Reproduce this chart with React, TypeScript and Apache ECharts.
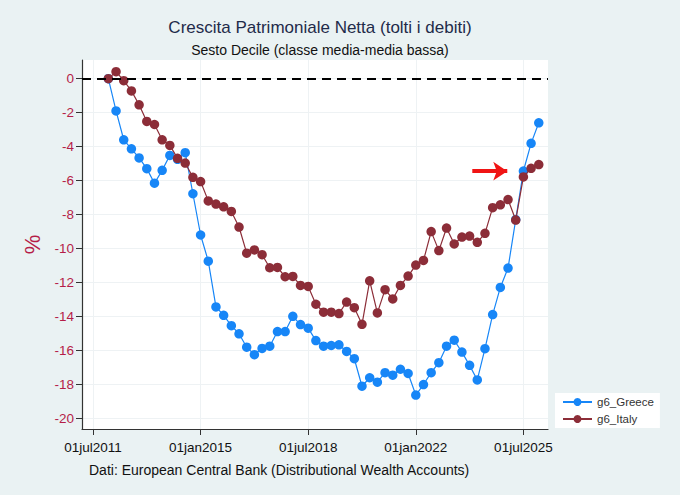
import React, { useEffect, useRef } from "react";
import * as echarts from "echarts";

// quarter index counted from 01jul2011 (= 0); first observation is 01jan2012
const FIRST_QUARTER = 2;

const greece = [
  0, -1.9, -3.6, -4.13, -4.67, -5.3, -6.16, -5.4, -4.52, -4.75, -4.36, -6.78,
  -9.21, -10.75, -13.45, -13.94, -14.55, -15.03, -15.82, -16.26, -15.89, -15.76,
  -14.9, -14.9, -14.0, -14.49, -14.7, -15.43, -15.76, -15.72, -15.68, -16.07,
  -16.5, -18.12, -17.62, -17.88, -17.32, -17.47, -17.12, -17.37, -18.64, -18.02,
  -17.32, -16.73, -15.76, -15.41, -16.11, -16.89, -17.75, -15.91, -13.9, -12.3,
  -11.16, -8.3, -5.44, -3.81, -2.6,
];

const italy = [
  0, 0.41, -0.12, -0.72, -1.54, -2.52, -2.7, -3.6, -3.93, -4.69, -4.97, -5.81,
  -6.06, -7.2, -7.39, -7.55, -7.82, -8.74, -10.28, -10.09, -10.37, -11.14,
  -11.12, -11.67, -11.65, -12.18, -12.24, -13.29, -13.76, -13.76, -13.84, -13.16,
  -13.49, -14.47, -11.91, -13.8, -12.43, -12.98, -12.18, -11.63, -10.98, -10.71,
  -9.01, -10.13, -8.8, -9.74, -9.33, -9.27, -9.64, -9.11, -7.6, -7.43,
  -7.12, -8.33, -5.79, -5.28, -5.06,
];

const xTickValues = [0, 14, 28, 42, 56];
const xTickLabels = ["01jul2011", "01jan2015", "01jul2018", "01jan2022", "01jul2025"];
const yTickValues = [-20, -18, -16, -14, -12, -10, -8, -6, -4, -2, 0];

const arrowFrom = [49.35, -5.45];
const arrowTo = [53.9, -5.45];

const seriesNames = ["g6_Greece", "g6_Italy"];

const BLUE = "#1786f7";
const RED = "#8c2d38";
const LABEL_RED = "#b51d48";

export default function App() {
  const ref = useRef<HTMLDivElement>(null);

  useEffect(() => {
    if (!ref.current) return;
    const chart = echarts.init(ref.current, undefined, { renderer: "svg" });
    const toPoints = (vals: number[]) => vals.map((v, i) => [FIRST_QUARTER + i, v]);

    chart.setOption({
      animation: false,
      backgroundColor: "#eaf2f3",
      title: [
        {
          text: "Crescita Patrimoniale Netta (tolti i debiti)",
          left: 315,
          top: 14,
          textAlign: "center",
          textStyle: { fontFamily: "Liberation Sans, Arial", fontSize: 17, fontWeight: "normal", color: "#1f2b4a" },
        },
        {
          text: "Sesto Decile (classe media-media bassa)",
          left: 315,
          top: 38,
          textAlign: "center",
          textStyle: { fontFamily: "Liberation Sans, Arial", fontSize: 14, fontWeight: "normal", color: "#111" },
        },
        {
          text: "Dati: European Central Bank (Distributional Wealth Accounts)",
          left: 84,
          top: 458,
          textStyle: { fontFamily: "Liberation Sans, Arial", fontSize: 14, fontWeight: "normal", color: "#111" },
        },
      ],
      grid: {
        left: 82,
        right: 132,
        top: 60,
        bottom: 66,
        show: true,
        backgroundColor: "#ffffff",
        borderWidth: 0,
      },
      legend: {
        data: seriesNames,
        orient: "vertical",
        left: 555,
        top: 393,
        backgroundColor: "#ffffff",
        padding: [3, 6, 3, 7],
        itemWidth: 29,
        itemHeight: 10,
        itemGap: 5,
        textStyle: { fontFamily: "Liberation Sans, Arial", fontSize: 11.5, color: "#333" },
      },
      xAxis: {
        type: "value",
        min: -1.43,
        max: 59.2,
        axisLine: { show: true, onZero: false, lineStyle: { color: "#333", width: 1.2 } },
        axisTick: { show: true, length: 6, customValues: xTickValues, lineStyle: { color: "#333" } },
        axisLabel: {
          customValues: xTickValues,
          formatter: (v: number) => xTickLabels[xTickValues.indexOf(Math.round(v))] ?? "",
          fontFamily: "Liberation Sans, Arial",
          fontSize: 13.5,
          color: "#111",
          margin: 11,
        },
        splitLine: { show: true, lineStyle: { color: "#eef2f4", width: 1 } },
      },
      yAxis: {
        type: "value",
        min: -20.64,
        max: 1.1,
        name: "%",
        nameLocation: "middle",
        nameRotate: 90,
        nameGap: 36,
        nameTextStyle: { fontFamily: "Liberation Sans, Arial", fontSize: 22, color: LABEL_RED },
        axisLine: { show: true, onZero: false, lineStyle: { color: "#333", width: 1.2 } },
        axisTick: { show: true, length: 6, customValues: yTickValues, lineStyle: { color: "#333" } },
        axisLabel: {
          customValues: yTickValues,
          fontFamily: "Liberation Sans, Arial",
          fontSize: 13.5,
          color: LABEL_RED,
          margin: 8,
        },
        splitLine: { show: true, lineStyle: { color: "#eef2f4", width: 1 } },
      },
      series: [
        {
          name: "zero",
          type: "line",
          data: [],
          silent: true,
          z: 1,
          markLine: {
            silent: true,
            symbol: ["none", "none"],
            label: { show: false },
            lineStyle: { color: "#000", type: [9, 6], width: 1.8 },
            data: [{ yAxis: 0 }],
          },
        },
        {
          name: seriesNames[0],
          type: "line",
          data: toPoints(greece),
          symbol: "circle",
          symbolSize: 9.5,
          itemStyle: { color: BLUE },
          lineStyle: { color: BLUE, width: 1.2 },
          z: 2,
        },
        {
          name: seriesNames[1],
          type: "line",
          data: toPoints(italy),
          symbol: "circle",
          symbolSize: 9.5,
          itemStyle: { color: RED },
          lineStyle: { color: RED, width: 1.2 },
          z: 3,
        },
        {
          name: "arrow",
          type: "line",
          data: [],
          silent: true,
          z: 5,
          markLine: {
            silent: true,
            symbol: ["none", "arrow"],
            symbolSize: [14, 14],
            label: { show: false },
            lineStyle: { color: "#f01414", type: "solid", width: 4 },
            data: [[{ coord: arrowFrom }, { coord: arrowTo }]],
          },
        },
      ],
    });

    return () => chart.dispose();
  }, []);

  return (
    <div
      ref={ref}
      style={{ position: "fixed", left: 0, top: 0, width: 680, height: 495 }}
    />
  );
}
